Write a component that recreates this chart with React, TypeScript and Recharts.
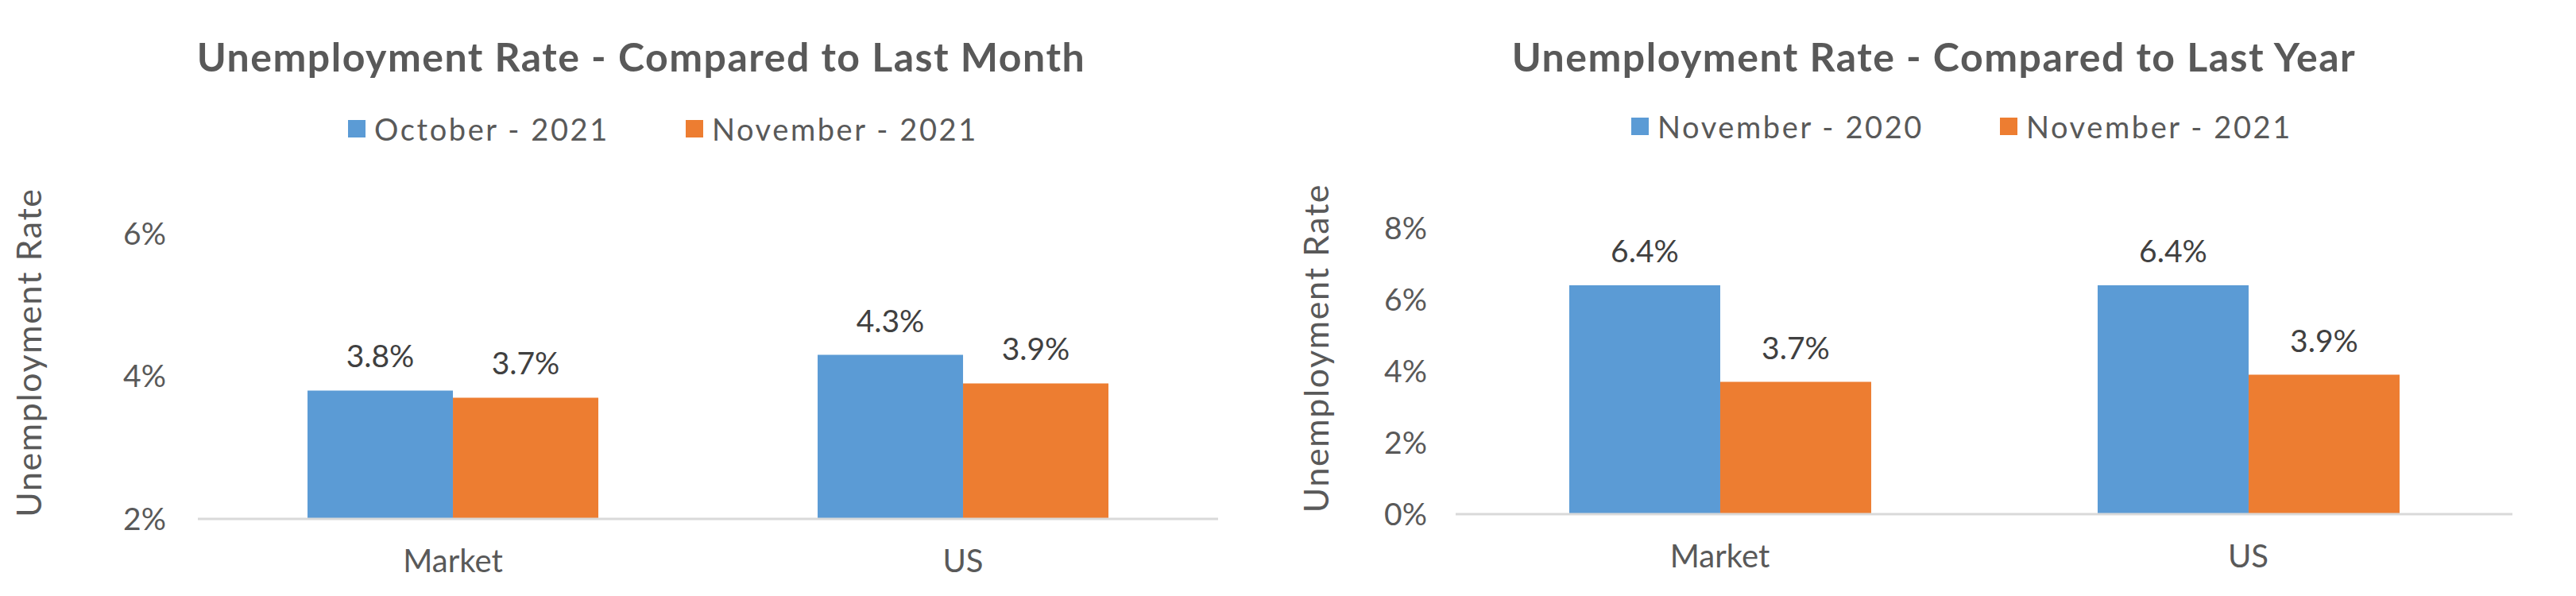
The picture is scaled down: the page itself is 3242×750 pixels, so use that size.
import { BarChart, Bar, XAxis, YAxis, Legend, LabelList } from "recharts";

const categories = ["Market", "US"];

const monthSeries = ["October - 2021", "November - 2021"];
const monthPrev = [3.8, 4.3];
const monthCurr = [3.7, 3.9];
const monthTicks = [2, 4, 6];

const yearSeries = ["November - 2020", "November - 2021"];
const yearPrev = [6.4, 6.4];
const yearCurr = [3.7, 3.9];
const yearTicks = [0, 2, 4, 6, 8];

const BLUE = "#5B9BD5";
const ORANGE = "#ED7D31";
const TEXT = "#595959";
const FONT = "Lato, sans-serif";

type Layout = {
  left: number;
  width: number;
  top: number;
  right: number;
  axisWidth: number;
  axisHeight: number;
  tickGap: number;
  titleCenter: number;
  legendLeft: number;
  legendTop: number;
  labelDx: number;
  labelDy: number;
};

const pct = (v: number) => `${v}%`;
const pct1 = (v: number) => `${v.toFixed(1)}%`;

// legend keeps the series order (recharts 3 sorts payload by name otherwise)
function makeLegend(series: string[]) {
  const colors = [BLUE, ORANGE];
  return () => (
    <div style={{ display: "flex", alignItems: "center", fontFamily: FONT }}>
      {series.map((s, i) => (
        <div
          key={s}
          style={{ display: "flex", alignItems: "center", marginLeft: i === 0 ? 0 : 96 }}
        >
          <span style={{ width: 22, height: 22, background: colors[i], display: "inline-block" }} />
          <span
            style={{
              marginLeft: 11,
              fontSize: 38,
              lineHeight: "40px",
              color: TEXT,
              letterSpacing: 2.6,
            }}
          >
            {s}
          </span>
        </div>
      ))}
    </div>
  );
}

function RateChart({
  title,
  series,
  prev,
  curr,
  ticks,
  layout,
}: {
  title: string;
  series: string[];
  prev: number[];
  curr: number[];
  ticks: number[];
  layout: Layout;
}) {
  const data = categories.map((name, i) => ({ name, prev: prev[i], curr: curr[i] }));
  return (
    <div style={{ position: "absolute", left: layout.left, top: 0, width: layout.width, height: 750 }}>
      <div
        style={{
          position: "absolute",
          left: layout.titleCenter - 1000,
          width: 2000,
          top: 46,
          textAlign: "center",
          fontFamily: FONT,
          fontWeight: 700,
          fontSize: 50,
          lineHeight: "50px",
          color: TEXT,
          letterSpacing: 1.5,
          whiteSpace: "nowrap",
        }}
      >
        {title}
      </div>
      <BarChart
        width={layout.width}
        height={750}
        data={data}
        margin={{ top: layout.top, right: layout.right, bottom: 0, left: 0 }}
        barCategoryGap="21.5%"
        barGap={0}
      >
        <XAxis
          dataKey="name"
          height={layout.axisHeight}
          axisLine={{ stroke: "#D9D9D9", strokeWidth: 3 }}
          tickLine={false}
          tickSize={0}
          tickMargin={39}
          tick={{ fill: TEXT, fontSize: 40, fontFamily: FONT }}
        />
        <YAxis
          width={layout.axisWidth}
          domain={[ticks[0], ticks[ticks.length - 1]]}
          ticks={ticks}
          tickFormatter={pct}
          axisLine={false}
          tickLine={false}
          tickSize={0}
          tickMargin={layout.tickGap}
          tick={{ fill: TEXT, fontSize: 39, fontFamily: FONT }}
          label={{
            value: "Unemployment Rate",
            angle: -90,
            position: "center",
            dx: layout.labelDx,
            dy: layout.labelDy,
            fill: TEXT,
            fontSize: 43,
            fontFamily: FONT,
            letterSpacing: 1.6,
          }}
        />
        <Legend
          verticalAlign="middle"
          align="center"
          content={makeLegend(series)}
          wrapperStyle={{ top: layout.legendTop, left: layout.legendLeft, width: "auto" }}
        />
        <Bar dataKey="prev" name={series[0]} fill={BLUE} isAnimationActive={false}>
          <LabelList
            dataKey="prev"
            position="top"
            offset={29}
            formatter={pct1}
            fill="#404040"
            fontSize={39}
            fontFamily={FONT}
          />
        </Bar>
        <Bar dataKey="curr" name={series[1]} fill={ORANGE} isAnimationActive={false}>
          <LabelList
            dataKey="curr"
            position="top"
            offset={29}
            formatter={pct1}
            fill="#404040"
            fontSize={39}
            fontFamily={FONT}
          />
        </Bar>
      </BarChart>
    </div>
  );
}

export default function App() {
  return (
    <div style={{ position: "absolute", left: 0, top: 0, width: 3242, height: 750, background: "#fff" }}>
      <RateChart
        title="Unemployment Rate - Compared to Last Month"
        series={monthSeries}
        prev={monthPrev}
        curr={monthCurr}
        ticks={monthTicks}
        layout={{
          left: 0,
          width: 1600,
          top: 294,
          right: 67,
          axisWidth: 249,
          axisHeight: 97,
          tickGap: 40,
          titleCenter: 807,
          legendLeft: 438,
          legendTop: 142,
          labelDx: -88,
          labelDy: -30,
        }}
      />
      <RateChart
        title="Unemployment Rate - Compared to Last Year"
        series={yearSeries}
        prev={yearPrev}
        curr={yearCurr}
        ticks={yearTicks}
        layout={{
          left: 1600,
          width: 1642,
          top: 287,
          right: 80,
          axisWidth: 232,
          axisHeight: 103,
          tickGap: 36,
          titleCenter: 834,
          legendLeft: 453,
          legendTop: 139,
          labelDx: -59,
          labelDy: -29,
        }}
      />
    </div>
  );
}
